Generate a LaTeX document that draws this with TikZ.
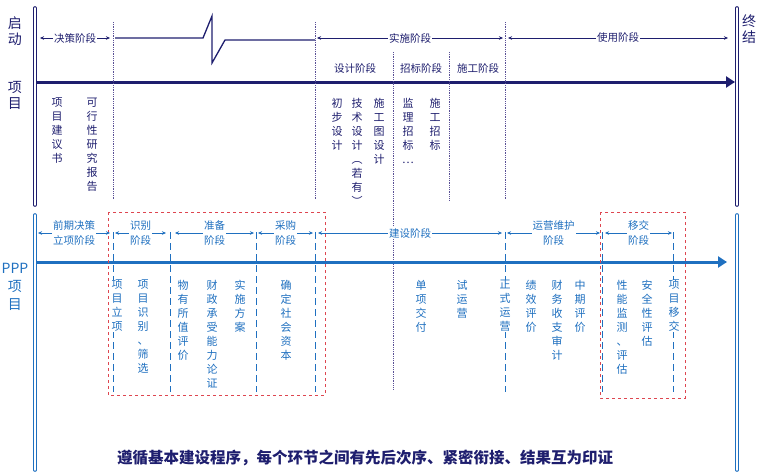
\documentclass[tikz,border=0pt]{standalone}
\usepackage{fontspec}
\setmainfont{Noto Sans CJK SC}
\usetikzlibrary{arrows.meta}
\definecolor{navy}{RGB}{30,30,110}
\definecolor{pblue}{RGB}{31,112,192}
\definecolor{pred}{RGB}{222,70,80}
\definecolor{dotc}{RGB}{90,80,150}
\tikzset{
  vlab/.style={anchor=north, align=center, inner sep=0pt, font=\fontsize{11}{14}\selectfont},
  phase/.style={fill=white, inner sep=1pt, align=center, font=\fontsize{10.5}{15}\selectfont},
  bar/.style={double=white, line width=1pt, double distance=1.6pt, line cap=round},
  pa/.style={<->, >={Stealth[length=4pt,width=3.5pt]}, thin},
}
\begin{document}
\begin{tikzpicture}[x=1pt,y=-1pt]
\useasboundingbox (0,0) rectangle (760,472);

% top: traditional procedure
\draw[navy, bar] (35,8) -- (35,205);
\draw[navy, bar] (737,8) -- (737,205);
\node[navy, font=\fontsize{14}{16}\selectfont, align=center] (qd) at (15,31) {启\\动};
\node[navy, font=\fontsize{14}{16}\selectfont, align=center] (xm1) at (15,95) {项\\目};
\node[navy, font=\fontsize{14}{16}\selectfont, align=center] (zj) at (749,29) {终\\结};
\coordinate (m0) at (37,82);
\coordinate (m1) at (735,82);
\draw[navy, line width=3pt, -{Triangle[length=9pt,width=11pt]}] (m0) -- (m1);
\foreach \x/\a/\b in {113/22/200, 315/22/200, 505/22/200, 393/52/390, 449/52/200}
  \draw[dotc, densely dotted, thick] (\x,\a) -- (\x,\b);
\coordinate (d0) at (40,38);
\coordinate (d1) at (110,38);
\draw[navy, pa] (d0) -- (d1) node[phase, midway] (jc) {决策阶段};
\draw[navy, line width=1.3pt] (115,38) -- (203,38) -- (212,16) -- (212,63) -- (225,40) -- (315,40);
\coordinate (s0) at (317,38);
\coordinate (s1) at (503,38);
\draw[navy, pa] (s0) -- (s1) node[phase, midway] (ss) {实施阶段};
\coordinate (u0) at (508,38);
\coordinate (u1) at (728,38);
\draw[navy, pa] (u0) -- (u1) node[phase, midway] (sy) {使用阶段};
\node[phase, text=navy] (sj) at (355,68) {设计阶段};
\node[phase, text=navy] (zb) at (421,68) {招标阶段};
\node[phase, text=navy] (sg) at (478,68) {施工阶段};
\foreach \x/\t [count=\i] in {57/项\\目\\建\\议\\书, 92/可\\行\\性\\研\\究\\报\\告,
    337/初\\步\\设\\计, 357/技\\术\\设\\计\\︵\\若\\有\\︶, 379/施\\工\\图\\设\\计,
    408/监\\理\\招\\标\\…, 435/施\\工\\招\\标}
  \node[vlab, navy] (t\i) at (\x,98) {\t};

% bottom: PPP procedure
\draw[pblue, bar] (35,215) -- (35,470);
\draw[pblue, bar] (737,215) -- (737,470);
\node[pblue, font=\fontsize{14}{18}\selectfont, align=center] (ppp) at (15,287) {PPP\\项\\目};
\coordinate (p0) at (37,262);
\coordinate (p1) at (727,262);
\draw[pblue, line width=3pt, -{Triangle[length=9pt,width=11pt]}] (p0) -- (p1);
\draw[pred, dashed, thick] (108,212) rectangle (325,395);
\draw[pred, dashed, thick] (600,212) rectangle (685,398);
\foreach \x in {113,170,256,315,505,602,673}
  \draw[pblue, dashed, dash pattern=on 7pt off 4pt, thick] (\x,232) -- (\x,392);
\foreach \a/\b/\t [count=\i] in {38/110/前期决策\\立项阶段, 115/166/识别\\阶段, 175/254/准备\\阶段,
    258/313/采购\\阶段, 318/502/建设阶段, 507/600/运营维护\\阶段, 605/672/移交\\阶段} {
  \coordinate (a\i) at (\a,233);
  \coordinate (b\i) at (\b,233);
  \draw[pblue, pa] (a\i) -- (b\i) node[phase, midway, text=pblue] (ph\i) {\t};
}
\foreach \x/\t [count=\i] in {117/项\\目\\立\\项, 143/项\\目\\识\\别\\、\\筛\\选,
    183/物\\有\\所\\值\\评\\价, 212/财\\政\\承\\受\\能\\力\\论\\证, 240/实\\施\\方\\案,
    286/确\\定\\社\\会\\资\\本, 421/单\\项\\交\\付, 462/试\\运\\营, 505/正\\式\\运\\营,
    531/绩\\效\\评\\价, 557/财\\务\\收\\支\\审\\计, 580/中\\期\\评\\价,
    622/性\\能\\监\\测\\、\\评\\估, 647/安\\全\\性\\评\\估, 674/项\\目\\移\\交}
  \node[vlab, pblue, fill=white] (v\i) at (\x,280) {\t};

\node[navy, font=\bfseries\fontsize{15.5}{18}\selectfont] (cap) at (365,458)
  {遵循基本建设程序，每个环节之间有先后次序、紧密衔接、结果互为印证};
\end{tikzpicture}
\end{document}
